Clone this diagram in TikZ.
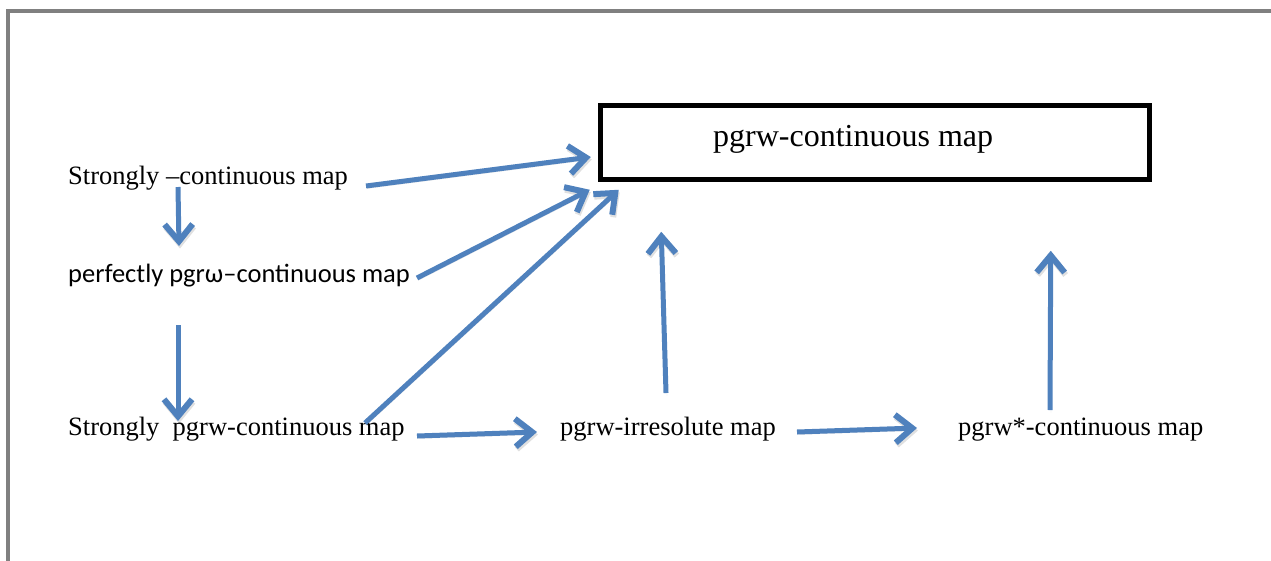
\documentclass[tikz,border=0pt]{standalone}
\usepackage{fontspec}
\setmainfont{Liberation Serif}
\newfontfamily\calibrifont{Carlito}
\usetikzlibrary{arrows.meta,calc}
\definecolor{arrowblue}{HTML}{4F81BD}
\definecolor{framegray}{HTML}{808080}
\begin{document}
\begin{tikzpicture}[x=1pt,y=-1pt,
  lbl/.style={anchor=base west, inner sep=0pt, font=\fontsize{26.5}{30}\selectfont},
  boxlbl/.style={anchor=base west, inner sep=0pt, font=\fontsize{32}{36}\selectfont},
  mainbox/.style={draw=black, line width=5.5pt, minimum width=549pt, minimum height=74pt, inner sep=0pt},
  implies/.style={draw=arrowblue, line width=5pt,
    -{Straight Barb[length=17pt,width=28pt,line width=6pt]},
    preaction={draw=black, opacity=0.12, transform canvas={shift={(1pt,-2.5pt)}}}},
  framerule/.style={draw=framegray, line width=4pt}]
  \useasboundingbox (0,0) rectangle (1271,560);
  % page frame
  \draw[framerule] (8,562) -- (8,10.8) -- (1273,10.8);

  % labels
  \node[lbl] (s1) at (68,184) {Strongly –continuous map};
  \node[lbl, font=\fontsize{26.5}{30}\calibrifont] (pp) at (68,282) {perfectly pgrω–continuous map};
  \node[lbl] (s2) at (68,435) {Strongly\ \ pgrw-continuous map};
  \node[lbl] (ir) at (560,435) {pgrw-irresolute map};
  \node[lbl] (ps) at (958,435) {pgrw*-continuous map};
  \node[mainbox] (P) at (875,142.5) {};
  \node[boxlbl] (pt) at (713,146) {pgrw-continuous map};

  % implications
  \draw[implies] ($(s1.base west)+(298,2)$) -- ($(P.west)+(-7,14.5)$);
  \draw[implies] ($(pp.base west)+(349,-4)$) -- ($(P.south west)+(-8,7.5)$);
  \draw[implies] ($(s2.base west)+(297,-12)$) -- ($(P.south west)+(21,7.5)$);
  \draw[implies] ($(s1.base west)+(110,3)$) -- ($(pp.base west)+(111,-36)$);
  \draw[implies] ($(pp.base west)+(110,43)$) -- ($(s2.base west)+(110,-14)$);
  \draw[implies] ($(s2.base west)+(349,1)$) -- ($(ir.base west)+(-23,-3)$);
  \draw[implies] ($(ir.base west)+(237,-3)$) -- ($(ps.base west)+(-41,-7)$);
  \draw[implies] ($(ir.base west)+(106,-42)$) -- ($(P.south west)+(63.5,49.5)$);
  \draw[implies] ($(ps.base west)+(92,-25)$) -- ($(P.south east)+(-101.5,68.5)$);
\end{tikzpicture}
\end{document}
